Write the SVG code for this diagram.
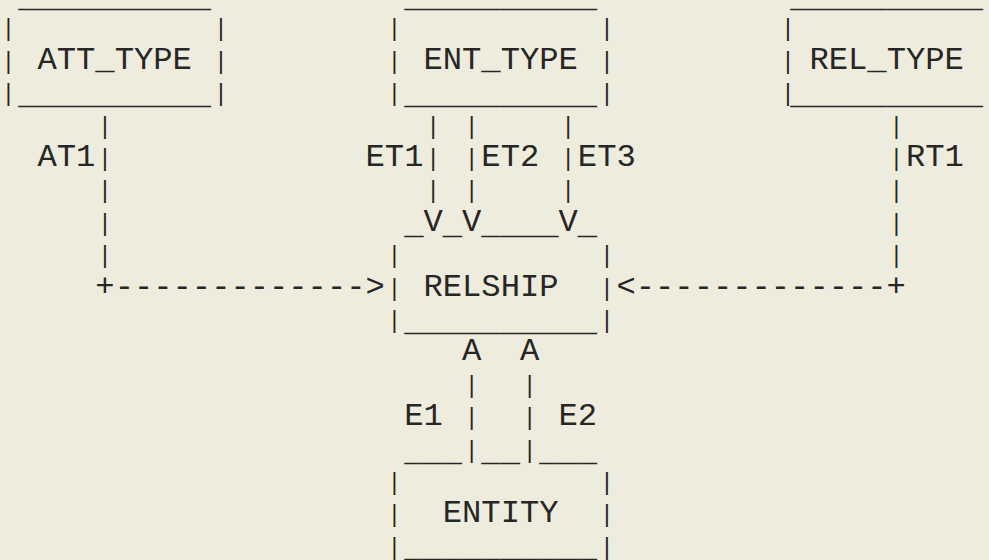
<svg xmlns="http://www.w3.org/2000/svg" width="989" height="560" viewBox="0 0 989 560" xml:space="preserve">
<style>
text { font-family: "Liberation Mono", "Courier New", monospace; font-size: 32.16px; fill: #262626; white-space: pre; }
text.b { font-size: 23px; text-anchor: middle; }
</style>
<rect x="0" y="0" width="989" height="560" fill="#eeecdd"/>
<g id="att_type">
<text x="18.15" y="7">__________</text>
<text class="b" x="8.5" y="36.4">|</text>
<text class="b" x="220.8" y="36.4">|</text>
<text class="b" x="8.5" y="68.8">|</text>
<text x="37.45" y="68.8">ATT_TYPE</text>
<text class="b" x="220.8" y="68.8">|</text>
<text class="b" x="8.5" y="101.2">|</text>
<text x="18.15" y="104.2">__________</text>
<text class="b" x="220.8" y="101.2">|</text>
</g>
<g id="ent_type">
<text x="404.15" y="7">__________</text>
<text class="b" x="394.5" y="36.4">|</text>
<text class="b" x="606.8" y="36.4">|</text>
<text class="b" x="394.5" y="68.8">|</text>
<text x="423.45" y="68.8">ENT_TYPE</text>
<text class="b" x="606.8" y="68.8">|</text>
<text class="b" x="394.5" y="101.2">|</text>
<text x="404.15" y="104.2">__________</text>
<text class="b" x="606.8" y="101.2">|</text>
</g>
<g id="rel_type">
<text x="790.15" y="7">__________</text>
<text class="b" x="788" y="36.4">|</text>
<text class="b" x="788" y="68.8">|</text>
<text x="809.45" y="68.8">REL_TYPE</text>
<text class="b" x="788" y="101.2">|</text>
<text x="790.15" y="104.2">__________</text>
</g>
<g id="connectors">
<text class="b" x="105" y="133.6">|</text>
<text class="b" x="433.1" y="133.6">|</text>
<text class="b" x="471.7" y="133.6">|</text>
<text class="b" x="568.2" y="133.6">|</text>
<text class="b" x="896.3" y="133.6">|</text>
<text x="37.45" y="166">AT1</text>
<text class="b" x="105" y="166">|</text>
<text x="365.55" y="166">ET1</text>
<text class="b" x="433.1" y="166">|</text>
<text class="b" x="471.7" y="166">|</text>
<text x="481.35" y="166">ET2</text>
<text class="b" x="568.2" y="166">|</text>
<text x="577.85" y="166">ET3</text>
<text class="b" x="896.3" y="166">|</text>
<text x="905.95" y="166">RT1</text>
<text class="b" x="105" y="198.4">|</text>
<text class="b" x="433.1" y="198.4">|</text>
<text class="b" x="471.7" y="198.4">|</text>
<text class="b" x="568.2" y="198.4">|</text>
<text class="b" x="896.3" y="198.4">|</text>
<text x="423.45" y="230.8">V V    V</text>
<text class="b" x="105" y="230.8">|</text>
<text class="b" x="896.3" y="230.8">|</text>
<text class="b" x="105" y="263.2">|</text>
<text class="b" x="896.3" y="263.2">|</text>
<text x="95.35" y="295.6">+-------------&gt;</text>
<text x="616.45" y="295.6">&lt;-------------+</text>
<text x="462.05" y="360.4">A  A</text>
<text class="b" x="471.7" y="392.8">|</text>
<text class="b" x="529.6" y="392.8">|</text>
<text x="404.15" y="425.2">E1</text>
<text class="b" x="471.7" y="425.2">|</text>
<text class="b" x="529.6" y="425.2">|</text>
<text x="558.55" y="425.2">E2</text>
<text class="b" x="471.7" y="457.6">|</text>
<text class="b" x="529.6" y="457.6">|</text>
</g>
<g id="relship">
<text x="404.15" y="233.8">_ _ ____ _</text>
<text class="b" x="394.5" y="263.2">|</text>
<text class="b" x="606.8" y="263.2">|</text>
<text class="b" x="394.5" y="295.6">|</text>
<text x="423.45" y="295.6">RELSHIP</text>
<text class="b" x="606.8" y="295.6">|</text>
<text class="b" x="394.5" y="328">|</text>
<text x="404.15" y="331">__________</text>
<text class="b" x="606.8" y="328">|</text>
</g>
<g id="entity">
<text x="404.15" y="460.6">___ __ ___</text>
<text class="b" x="394.5" y="490">|</text>
<text class="b" x="606.8" y="490">|</text>
<text class="b" x="394.5" y="522.4">|</text>
<text x="442.75" y="522.4">ENTITY</text>
<text class="b" x="606.8" y="522.4">|</text>
<text class="b" x="394.5" y="554.8">|</text>
<text x="404.15" y="556.8">__________</text>
<text class="b" x="606.8" y="554.8">|</text>
</g>
</svg>
